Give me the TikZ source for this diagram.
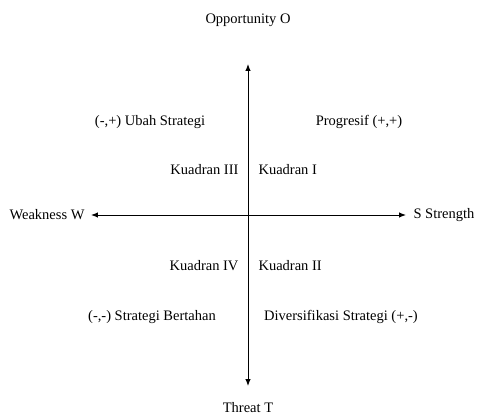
\documentclass[tikz,border=0pt]{standalone}
\usepackage{fontspec}
\setmainfont{Liberation Serif}
\usetikzlibrary{arrows.meta}

\begin{document}
\begin{tikzpicture}[x={1pt},y={1pt},font=\fontsize{14.5}{16}\selectfont,
  axis/.style={line width=1pt,{Latex[length=7pt,width=5.5pt]}-{Latex[length=7pt,width=5.5pt]}}]
\useasboundingbox (-248,-202) rectangle (230,215);
\coordinate (Wend) at (-157,0);
\coordinate (Send) at (158,0);
\coordinate (Oend) at (0,151);
\coordinate (Tend) at (0,-171);
\draw[axis] (Wend) -- (Send);
\draw[axis] (Oend) -- (Tend);

\node (O) at (0,195) {Opportunity O};
\node (T) at (0,-193) {Threat T};
\node [left] (W) at (-160,0) {Weakness W};
\node [right] (S) at (162,0) {S Strength};

\node (UbahStrategi) at (-98,93) {(-,+) Ubah Strategi};
\node (Progresif) at (111,93) {Progresif (+,+)};
\node [left] (K3) at (-6,45) {Kuadran III};
\node [right] (K1) at (7,45) {Kuadran I};
\node [left] (K4) at (-6,-51) {Kuadran IV};
\node [right] (K2) at (7,-51) {Kuadran II};
\node (Bertahan) at (-96,-102) {(-,-) Strategi Bertahan};
\node (Diversifikasi) at (93,-102) {Diversifikasi Strategi (+,-)};

\end{tikzpicture}
\end{document}
